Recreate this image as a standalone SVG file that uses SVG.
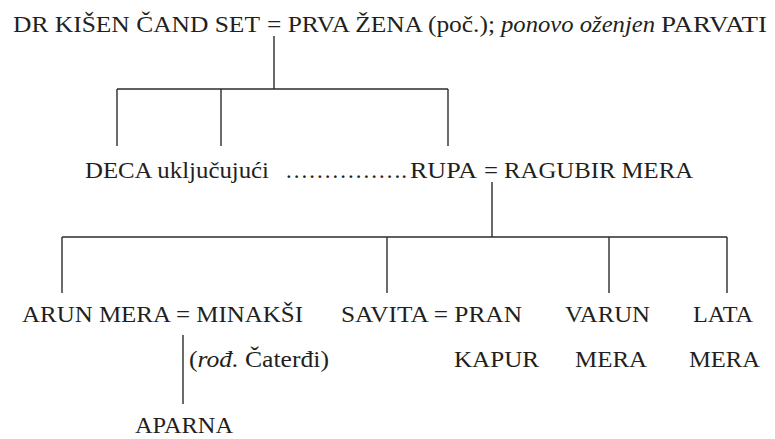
<svg xmlns="http://www.w3.org/2000/svg" width="775" height="439" viewBox="0 0 775 439">
<style>
text{font-family:"Liberation Serif","DejaVu Serif","Noto Serif","Times New Roman",serif;font-size:24px;fill:#231f20}
.it{font-style:italic}
.c line{stroke:#2b2b2b;stroke-width:1.4;fill:none}
</style>
<rect width="775" height="439" fill="#fff"/>
<g class="c" id="connectors">
<line x1="274" y1="36" x2="274" y2="89"/>
<line x1="117" y1="89" x2="448" y2="89"/>
<line x1="117" y1="89" x2="117" y2="146"/>
<line x1="221" y1="89" x2="221" y2="146"/>
<line x1="448" y1="89" x2="448" y2="146"/>
<line x1="492" y1="182" x2="492" y2="237"/>
<line x1="62" y1="237" x2="727" y2="237"/>
<line x1="62" y1="237" x2="62" y2="293"/>
<line x1="387" y1="237" x2="387" y2="293"/>
<line x1="609" y1="237" x2="609" y2="293"/>
<line x1="727" y1="237" x2="727" y2="293"/>
<line x1="183" y1="335" x2="183" y2="404"/>
</g>
<g id="n-top">
<text x="13" y="32" textLength="247" lengthAdjust="spacingAndGlyphs">DR  KIŠEN ČAND SET</text>
<text x="267" y="32" textLength="228" lengthAdjust="spacingAndGlyphs">= PRVA ŽENA (poč.);</text>
<text class="it" x="501" y="32" textLength="154" lengthAdjust="spacingAndGlyphs">ponovo oženjen</text>
<text x="661" y="32" textLength="106" lengthAdjust="spacingAndGlyphs">PARVATI</text>
</g>
<g id="n-row2">
<text x="85" y="178" textLength="184" lengthAdjust="spacingAndGlyphs">DECA uključujući</text>
<text x="285" y="178" textLength="122" lengthAdjust="spacingAndGlyphs">…………….</text>
<text x="410" y="178" textLength="67" lengthAdjust="spacingAndGlyphs">RUPA</text>
<text x="484" y="178" textLength="209" lengthAdjust="spacingAndGlyphs">= RAGUBIR MERA</text>
</g>
<g id="n-arun">
<text x="22" y="322" textLength="149" lengthAdjust="spacingAndGlyphs">ARUN MERA</text>
<text x="176" y="322" textLength="127" lengthAdjust="spacingAndGlyphs">= MINAKŠI</text>
<text x="189" y="367" textLength="140" lengthAdjust="spacingAndGlyphs">(<tspan class="it">rođ.</tspan> Čaterđi)</text>
</g>
<g id="n-savita">
<text x="341" y="322" textLength="181" lengthAdjust="spacingAndGlyphs">SAVITA = PRAN</text>
<text x="454" y="367" textLength="85" lengthAdjust="spacingAndGlyphs">KAPUR</text>
</g>
<g id="n-varun">
<text x="565" y="322" textLength="85" lengthAdjust="spacingAndGlyphs">VARUN</text>
<text x="575" y="367" textLength="72" lengthAdjust="spacingAndGlyphs">MERA</text>
</g>
<g id="n-lata">
<text x="693" y="322" textLength="60" lengthAdjust="spacingAndGlyphs">LATA</text>
<text x="689" y="367" textLength="71" lengthAdjust="spacingAndGlyphs">MERA</text>
</g>
<g id="n-aparna">
<text x="135" y="433" textLength="98" lengthAdjust="spacingAndGlyphs">APARNA</text>
</g>
</svg>
